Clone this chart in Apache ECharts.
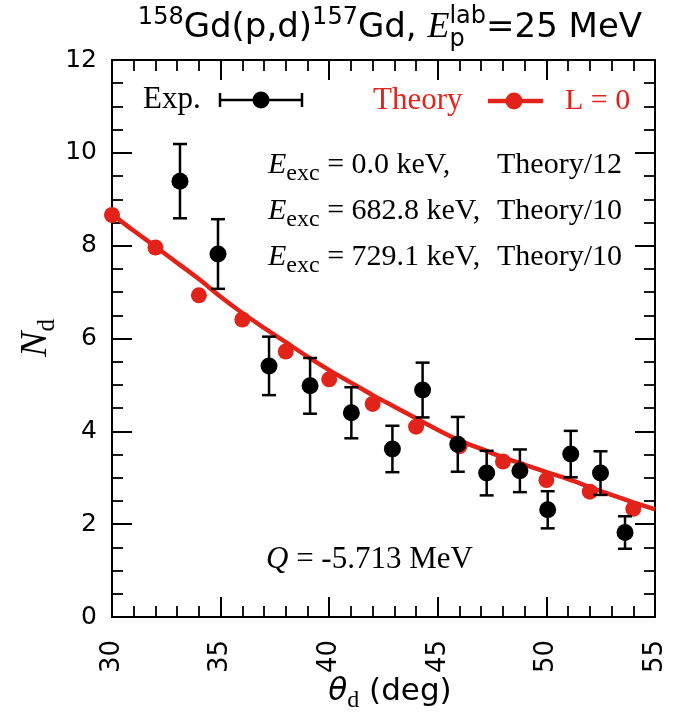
<!DOCTYPE html>
<html><head><meta charset="utf-8">
<script src="https://cdn.jsdelivr.net/npm/echarts@6/dist/echarts.min.js"></script>
<style>html,body{margin:0;padding:0;background:#fff}#c{width:691px;height:719px}</style>
</head><body><div id="c"></div>
<script>
// ---- data ----
const xTicks = [30, 35, 40, 45, 50, 55];
const yTicks = [0, 2, 4, 6, 8, 10, 12];

const expTheta = [33.13, 34.88, 37.23, 39.12, 41.02, 42.91, 44.30, 45.92, 47.25, 48.78, 50.06, 51.12, 52.49, 53.62];
const expN     = [9.39, 7.82, 5.41, 4.98, 4.40, 3.62, 4.89, 3.72, 3.10, 3.15, 2.31, 3.51, 3.10, 1.82];
const expErr   = [0.80, 0.75, 0.63, 0.60, 0.55, 0.50, 0.59, 0.59, 0.48, 0.46, 0.40, 0.50, 0.47, 0.35];

const thDotTheta = [30, 32, 34, 36, 38, 40, 42, 44, 46, 48, 50, 52, 54];
const thDotN     = [8.66, 7.96, 6.93, 6.41, 5.72, 5.12, 4.59, 4.10, 3.68, 3.35, 2.95, 2.70, 2.33];

const thCurveTheta = [30, 31, 32, 33, 34, 35, 36, 37, 38, 39, 40, 41, 42, 43, 44, 45, 46, 47, 48, 49, 50, 51, 52, 53, 54, 55];
const thCurveN     = [8.68, 8.32, 7.98, 7.63, 7.28, 6.90, 6.55, 6.23, 5.92, 5.61, 5.32, 5.05, 4.78, 4.53, 4.28, 4.03, 3.80, 3.62, 3.44, 3.28, 3.12, 2.97, 2.80, 2.63, 2.47, 2.32];

// ---- styling ----
const RED = '#e2231a';
const SANS = '"DejaVu Sans", sans-serif';
const SERIF = '"Liberation Serif", "Times New Roman", serif';

const mctx = document.createElement('canvas').getContext('2d');
function fontStr(p) { return (p.italic ? 'italic ' : '') + p.size + 'px ' + (p.family || SANS); }
function measure(p) { mctx.font = fontStr(p); return mctx.measureText(p.t).width; }

// lay out a run of text pieces on a common baseline
function textRun(pieces, x0, base, align) {
  pieces.forEach(p => { p.w = measure(p); });
  let x = x0;
  if (align === 'center') {
    let tw = 0, i = 0;
    while (i < pieces.length) {
      let w = pieces[i].w;
      while (i + 1 < pieces.length && pieces[i + 1].stack) { w = Math.max(w, pieces[i + 1].w); i++; }
      tw += w; i++;
    }
    x = x0 - tw / 2;
  }
  const out = [];
  let i = 0;
  while (i < pieces.length) {
    const grp = [pieces[i]];
    while (i + 1 < pieces.length && pieces[i + 1].stack) { grp.push(pieces[i + 1]); i++; }
    let adv = 0;
    grp.forEach(p => {
      out.push({
        type: 'text', x: x, y: base - 0.32 * p.size + (p.dy || 0), silent: true,
        style: { text: p.t, font: fontStr(p), fill: p.fill || '#000', textAlign: 'left', textVerticalAlign: 'middle', verticalAlign: 'middle' }
      });
      adv = Math.max(adv, p.w);
    });
    x += adv; i++;
  }
  return out;
}

const graphics = [];
// Title
graphics.push(...textRun([
  { t: '158', size: 24, dy: -14 },
  { t: 'Gd(p,d)', size: 34 },
  { t: '157', size: 24, dy: -14 },
  { t: 'Gd, ', size: 34 },
  { t: 'E', size: 36, italic: true, family: SERIF },
  { t: 'p', size: 24, dy: 8 },
  { t: 'lab', size: 24, dy: -15, stack: true },
  { t: '=25 MeV', size: 34 }
], 390, 39, 'center'));

// Legend: Exp.
graphics.push(...textRun([{ t: 'Exp.', size: 31, family: SERIF }], 143, 110, 'left'));
graphics.push({ type: 'line', silent: true, shape: { x1: 220, y1: 100, x2: 302, y2: 100 }, style: { stroke: '#000', lineWidth: 2.5 } });
graphics.push({ type: 'line', silent: true, shape: { x1: 220, y1: 93, x2: 220, y2: 107 }, style: { stroke: '#000', lineWidth: 2.5 } });
graphics.push({ type: 'line', silent: true, shape: { x1: 302, y1: 93, x2: 302, y2: 107 }, style: { stroke: '#000', lineWidth: 2.5 } });
graphics.push({ type: 'circle', silent: true, shape: { cx: 261, cy: 100, r: 8.5 }, style: { fill: '#000' } });
// Legend: Theory
graphics.push(...textRun([{ t: 'Theory', size: 31, family: SERIF, fill: RED }], 373, 111, 'left'));
graphics.push({ type: 'line', silent: true, shape: { x1: 488, y1: 101, x2: 543, y2: 101 }, style: { stroke: RED, lineWidth: 4.5 } });
graphics.push({ type: 'circle', silent: true, shape: { cx: 514, cy: 101, r: 8.5 }, style: { fill: RED } });
graphics.push(...textRun([{ t: 'L = 0', size: 30, family: SERIF, fill: RED }], 565, 111, 'left'));

// Annotations
const annY = [175, 221, 267];
const annE = [' = 0.0 keV,', ' = 682.8 keV,', ' = 729.1 keV,'];
const annT = ['Theory/12', 'Theory/10', 'Theory/10'];
annY.forEach((y, k) => {
  graphics.push(...textRun([
    { t: 'E', size: 30, italic: true, family: SERIF },
    { t: 'exc', size: 24, family: SERIF, dy: 6 },
    { t: annE[k], size: 30, family: SERIF }
  ], 268, y, 'left'));
  graphics.push(...textRun([{ t: annT[k], size: 30, family: SERIF }], 497, y, 'left'));
});
graphics.push(...textRun([
  { t: 'Q', size: 31, italic: true, family: SERIF },
  { t: ' = -5.713 MeV', size: 31, family: SERIF }
], 266, 570, 'left'));

// x axis name
graphics.push(...textRun([
  { t: 'θ', size: 31, italic: true },
  { t: 'd', size: 24, family: SERIF, dy: 6 },
  { t: ' (deg)', size: 31 }
], 390, 702, 'center'));

// y axis name (rotated)
graphics.push({
  type: 'group', x: 36, y: 338, rotation: Math.PI / 2, silent: true,
  children: textRun([
    { t: 'N', size: 38, italic: true, family: SERIF },
    { t: 'd', size: 25, family: SERIF, dy: 7 }
  ], 0, 12, 'center')
});

function axisBase(pos, min, max, interval, minorSplit, showLabel, extra) {
  return Object.assign({
    type: 'value', position: pos, min: min, max: max, interval: interval,
    axisLine: { show: true, onZero: false, lineStyle: { color: '#000', width: 2 } },
    axisTick: { show: true, inside: true, length: 20, lineStyle: { color: '#000', width: 2 } },
    minorTick: { show: true, splitNumber: minorSplit, length: 11, lineStyle: { color: '#000', width: 1.8 } },
    splitLine: { show: false }, minorSplitLine: { show: false },
    axisLabel: { show: showLabel, color: '#000', fontFamily: SANS, fontSize: 25 }
  }, extra || {});
}

const chart = echarts.init(document.getElementById('c'), null, { renderer: 'canvas' });
chart.setOption({
  animation: false,
  backgroundColor: '#fff',
  grid: { left: 112, right: 36, top: 60, bottom: 102, containLabel: false },
  xAxis: [
    axisBase('bottom', xTicks[0], xTicks[xTicks.length - 1], xTicks[1] - xTicks[0], 5, true,
      { axisLabel: { show: true, rotate: 90, margin: 23, color: '#000', fontFamily: SANS, fontSize: 26 } }),
    axisBase('top', xTicks[0], xTicks[xTicks.length - 1], xTicks[1] - xTicks[0], 5, false)
  ],
  yAxis: [
    axisBase('left', yTicks[0], yTicks[yTicks.length - 1], yTicks[1] - yTicks[0], 4, true,
      { axisLabel: { show: true, margin: 15, color: '#000', fontFamily: SANS, fontSize: 25 } }),
    axisBase('right', yTicks[0], yTicks[yTicks.length - 1], yTicks[1] - yTicks[0], 4, false)
  ],
  series: [
    {
      type: 'line', name: 'Theory curve', smooth: 0.3, showSymbol: false, silent: true, z: 2,
      data: thCurveTheta.map((t, i) => [t, thCurveN[i]]),
      lineStyle: { color: RED, width: 4.5 }
    },
    {
      type: 'scatter', name: 'Theory', symbolSize: 16, silent: true, z: 2,
      itemStyle: { color: RED, opacity: 1 },
      data: thDotTheta.map((t, i) => [t, thDotN[i]])
    },
    {
      type: 'custom', name: 'Exp err', silent: true, z: 3,
      data: expTheta.map((t, i) => [t, expN[i], expErr[i]]),
      encode: { x: 0, y: 1 },
      renderItem: function (params, api) {
        const x = api.value(0), y = api.value(1), e = api.value(2);
        const top = api.coord([x, y + e]), bot = api.coord([x, y - e]);
        const hw = 7, st = { stroke: '#000', lineWidth: 2.5 };
        return {
          type: 'group', children: [
            { type: 'line', shape: { x1: top[0], y1: top[1], x2: bot[0], y2: bot[1] }, style: st },
            { type: 'line', shape: { x1: top[0] - hw, y1: top[1], x2: top[0] + hw, y2: top[1] }, style: st },
            { type: 'line', shape: { x1: bot[0] - hw, y1: bot[1], x2: bot[0] + hw, y2: bot[1] }, style: st }
          ]
        };
      }
    },
    {
      type: 'scatter', name: 'Exp.', symbolSize: 17, silent: true, z: 4,
      itemStyle: { color: '#000', opacity: 1 },
      data: expTheta.map((t, i) => [t, expN[i]])
    }
  ],
  graphic: graphics
});
</script>
</body></html>
